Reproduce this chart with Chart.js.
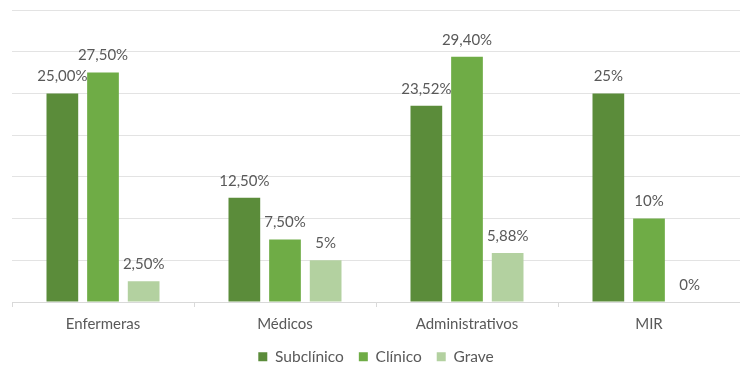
<!DOCTYPE html>
<html>
<head>
<meta charset="utf-8">
<script src="https://cdn.jsdelivr.net/npm/chart.js@4/dist/chart.umd.min.js"></script>
<style>
    html, body { margin: 0; padding: 0; background: #ffffff; overflow: hidden; }
    #wrap { width: 740px; height: 368px; position: relative; }
</style>
</head>
<body>
<div id="wrap"><canvas id="barChart"></canvas></div>
<script>
const categories = ['Enfermeras', 'Médicos', 'Administrativos', 'MIR'];

const subclinico = [25.00, 12.50, 23.52, 25];
const clinico = [27.50, 7.50, 29.40, 10];
const grave = [2.50, 5, 5.88, 0];

// labels as printed in the source
const subclinicoLabels = ['25,00%', '12,50%', '23,52%', '25%'];
const clinicoLabels = ['27,50%', '7,50%', '29,40%', '10%'];
const graveLabels = ['2,50%', '5%', '5,88%', '0%'];

const yTicks = [0, 5, 10, 15, 20, 25, 30, 35];

const textColor = '#595959';
const fontFamily = 'Lato, "Liberation Sans", sans-serif';

// draws the value text above each bar
const barLabels = {
    id: 'barLabels',
    afterDatasetsDraw(chart) {
        const ctx = chart.ctx;
        ctx.save();
        ctx.font = '15px ' + fontFamily;
        ctx.fillStyle = textColor;
        ctx.textAlign = 'center';
        ctx.textBaseline = 'middle';
        chart.data.datasets.forEach((ds, i) => {
            const meta = chart.getDatasetMeta(i);
            meta.data.forEach((bar, j) => {
                ctx.fillText(ds.valueLabels[j], bar.x, bar.y - 17);
            });
        });
        ctx.restore();
    }
};

const ctx = document.getElementById('barChart').getContext('2d');
new Chart(ctx, {
    type: 'bar',
    data: {
        labels: categories,
        datasets: [
            {
                label: 'Subclínico',
                data: subclinico,
                valueLabels: subclinicoLabels,
                backgroundColor: '#5b8c3a',
                categoryPercentage: 0.67,
                barPercentage: 0.78
            },
            {
                label: 'Clínico',
                data: clinico,
                valueLabels: clinicoLabels,
                backgroundColor: '#6fac46',
                categoryPercentage: 0.67,
                barPercentage: 0.78
            },
            {
                label: 'Grave',
                data: grave,
                valueLabels: graveLabels,
                backgroundColor: '#b3d1a0',
                categoryPercentage: 0.67,
                barPercentage: 0.78
            }
        ]
    },
    options: {
        responsive: true,
        maintainAspectRatio: false,
        animation: false,
        layout: { padding: { left: 12, right: 0, top: 10, bottom: 0 } },
        plugins: {
            tooltip: { enabled: false },
            legend: {
                position: 'bottom',
                maxHeight: 34,
                labels: {
                    color: textColor,
                    font: { family: fontFamily, size: 15.5 },
                    boxWidth: 9,
                    boxHeight: 9,
                    padding: 15
                }
            }
        },
        scales: {
            x: {
                grid: {
                    display: true,
                    drawOnChartArea: false,
                    drawTicks: true,
                    tickLength: 5,
                    color: '#d9d9d9'
                },
                border: { color: '#d9d9d9' },
                ticks: {
                    color: textColor,
                    font: { family: fontFamily, size: 15 },
                    padding: 8
                },
                afterFit(axis) {
                    axis.height = 32;
                }
            },
            y: {
                min: 0,
                max: yTicks[yTicks.length - 1],
                afterBuildTicks(axis) {
                    axis.ticks = yTicks.map(v => ({ value: v }));
                },
                ticks: { display: false },
                grid: { color: '#e3e3e3', drawTicks: false },
                border: { display: false }
            }
        }
    },
    plugins: [barLabels]
});
</script>
</body>
</html>
